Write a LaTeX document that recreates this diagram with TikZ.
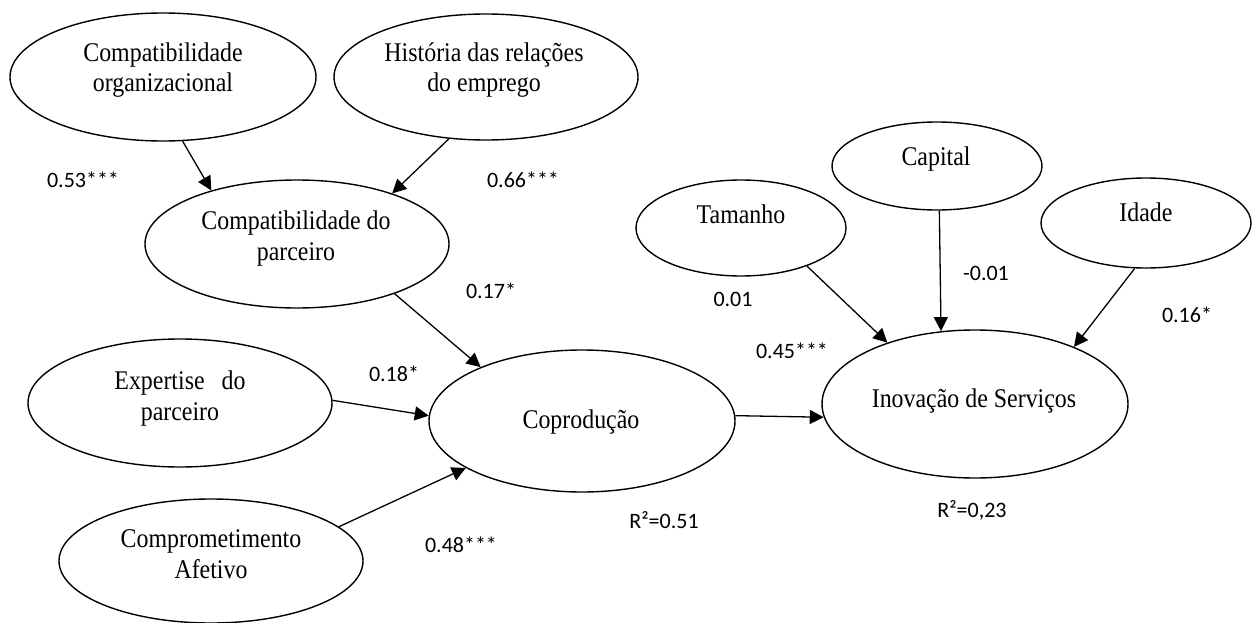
\documentclass[tikz,border=0pt]{standalone}
\usepackage{fontspec}
\setmainfont{Liberation Serif}[FakeStretch=0.885]
\newfontfamily\coeffont{Carlito}
\usetikzlibrary{shapes.geometric,arrows.meta}
\begin{document}
\begin{tikzpicture}[x=1pt,y=-1pt,
  construct/.style={draw, ellipse, line width=1.4pt, inner sep=0pt},
  ctext/.style={anchor=base, inner sep=0pt, font=\fontsize{27}{32}\selectfont},
  coef/.style={anchor=base, inner sep=0pt, font=\coeffont\fontsize{22}{26}\selectfont},
  link/.style={line width=1.3pt, -{Triangle[length=14pt,width=14pt]}}]
\useasboundingbox (0,0) rectangle (1255,623);

% latent constructs
\node[construct, minimum width=306pt, minimum height=128pt] (org)   at (163,77)  {};
\node[construct, minimum width=304pt, minimum height=126pt] (hist)  at (486,77)  {};
\node[construct, minimum width=304pt, minimum height=128pt] (parc)  at (297,244) {};
\node[construct, minimum width=304pt, minimum height=128pt] (exp)   at (180,403) {};
\node[construct, minimum width=306pt, minimum height=142pt] (copro) at (582,421) {};
\node[construct, minimum width=304pt, minimum height=124pt] (comp)  at (211,561) {};
\node[construct, minimum width=210pt, minimum height=96pt]  (tam)   at (741,228) {};
\node[construct, minimum width=210pt, minimum height=88pt]  (cap)   at (937,166) {};
\node[construct, minimum width=210pt, minimum height=90pt]  (idade) at (1146,223) {};
\node[construct, minimum width=306pt, minimum height=148pt] (inov)  at (975,404) {};

% construct names
\node[ctext] (org-a)   at (163,62)  {Compatibilidade};
\node[ctext] (org-b)   at (163,92)  {organizacional};
\node[ctext] (hist-a)  at (484,62)  {História das relações};
\node[ctext] (hist-b)  at (484,92)  {do emprego};
\node[ctext] (parc-a)  at (296,229) {Compatibilidade do};
\node[ctext] (parc-b)  at (296,260) {parceiro};
\node[ctext] (exp-a)   at (180,389) {Expertise\hspace{17pt}do};
\node[ctext] (exp-b)   at (180,420) {parceiro};
\node[ctext] (copro-a) at (581,428) {Coprodução};
\node[ctext] (comp-a)  at (211,547) {Comprometimento};
\node[ctext] (comp-b)  at (211,578) {Afetivo};
\node[ctext] (tam-a)   at (741,223) {Tamanho};
\node[ctext] (cap-a)   at (936,165) {Capital};
\node[ctext] (idade-a) at (1146,221) {Idade};
\node[ctext] (inov-a)  at (974,407) {Inovação de Serviços};

% structural paths
\draw[link] (org.-73)   -- (parc.148);
\draw[link] (hist.-121) -- (parc.28);
\draw[link] (parc.-27)  -- (copro.152);
\draw[link] (exp.1)     -- (copro.178);
\draw[link] (comp.15)   -- (copro.-158);
\draw[link] (copro.2)   -- (inov.-175.5);
\draw[link] (tam.-30)   -- (inov.145);
\draw[link] (cap.-87)   -- (inov.115);
\draw[link] (idade.-104) -- (inov.30);

% path coefficients
\node[coef] (c-org)   at (83,187)   {0.53***};
\node[coef] (c-hist)  at (523,187)  {0.66***};
\node[coef] (c-parc)  at (491,298)  {0.17*};
\node[coef] (c-exp)   at (394,381)  {0.18*};
\node[coef] (c-comp)  at (461,552)  {0.48***};
\node[coef] (r-copro) at (664,528)  {R²=0.51};
\node[coef] (c-tam)   at (733,306)  {0.01};
\node[coef] (c-cap)   at (986,280)  {-0.01};
\node[coef] (c-copro) at (792,358)  {0.45***};
\node[coef] (c-idade) at (1187,322) {0.16*};
\node[coef] (r-inov)  at (972,517)  {R²=0,23};
\end{tikzpicture}
\end{document}
